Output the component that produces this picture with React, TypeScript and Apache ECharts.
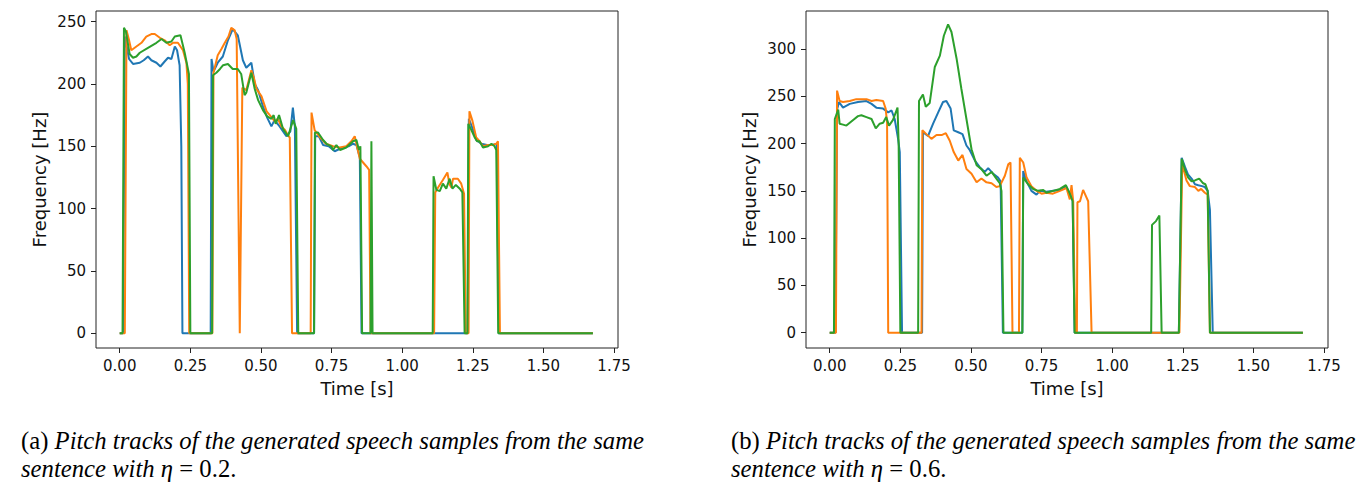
import React, { useEffect, useRef } from "react";
import * as echarts from "echarts";

// ---------- data: [time (s), frequency (Hz)] ----------
const xTicks = [0, 0.25, 0.5, 0.75, 1.0, 1.25, 1.5, 1.75];
const yTicksA = [0, 50, 100, 150, 200, 250];
const yTicksB = [0, 50, 100, 150, 200, 250, 300];

const aBlue = [
  [0, 0], [0.012, 0], [0.018, 238], [0.033, 220], [0.047, 216], [0.071, 217], [0.085, 219], [0.1, 222], [0.112, 219],
  [0.13, 217], [0.144, 214], [0.159, 218], [0.171, 221], [0.183, 220], [0.195, 230], [0.203, 227], [0.212, 215],
  [0.218, 150], [0.222, 0], [0.322, 0], [0.325, 220], [0.332, 210], [0.347, 217], [0.365, 222], [0.383, 235],
  [0.4, 244], [0.418, 239], [0.436, 219], [0.448, 213], [0.466, 217], [0.478, 200], [0.49, 195], [0.507, 182],
  [0.522, 173], [0.537, 166], [0.548, 171], [0.566, 166], [0.59, 158], [0.604, 162], [0.613, 181], [0.62, 166],
  [0.628, 0], [0.688, 0], [0.692, 158], [0.705, 158], [0.72, 151], [0.74, 150], [0.761, 146], [0.79, 149],
  [0.81, 150], [0.825, 152], [0.838, 151], [0.85, 141], [0.856, 0], [1.232, 0], [1.236, 172], [1.248, 165],
  [1.262, 155], [1.28, 152], [1.3, 151], [1.32, 151], [1.335, 152], [1.342, 0], [1.675, 0],
];

const aOrange = [
  [0, 0], [0.018, 0], [0.024, 243], [0.032, 236], [0.041, 227], [0.059, 230], [0.077, 233], [0.094, 238],
  [0.112, 240], [0.124, 240], [0.142, 237], [0.159, 235], [0.177, 231], [0.189, 233], [0.206, 233], [0.224, 227],
  [0.236, 217], [0.241, 200], [0.246, 0], [0.328, 0], [0.332, 209], [0.347, 223], [0.36, 228], [0.372, 233],
  [0.385, 238], [0.395, 245], [0.407, 243], [0.414, 236], [0.425, 0], [0.434, 197], [0.448, 195], [0.466, 211],
  [0.475, 205], [0.484, 196], [0.502, 190], [0.52, 178], [0.535, 174], [0.549, 170], [0.56, 172], [0.572, 166],
  [0.585, 163], [0.595, 159], [0.602, 157], [0.61, 0], [0.676, 0], [0.679, 177], [0.69, 163], [0.71, 157],
  [0.73, 152], [0.755, 150], [0.779, 149], [0.802, 150], [0.82, 154], [0.832, 158], [0.838, 152], [0.85, 140],
  [0.873, 134], [0.883, 131], [0.888, 0], [1.113, 0], [1.117, 113], [1.127, 117], [1.144, 123], [1.16, 129],
  [1.167, 120], [1.174, 117], [1.18, 124], [1.197, 124], [1.209, 120], [1.219, 112], [1.225, 0], [1.235, 0],
  [1.238, 178], [1.248, 171], [1.262, 157], [1.274, 154], [1.286, 150], [1.304, 151], [1.321, 151], [1.333, 152],
  [1.339, 154], [1.346, 0], [1.675, 0],
];

const aGreen = [
  [0, 0], [0.01, 0], [0.015, 245], [0.022, 242], [0.035, 224], [0.047, 221], [0.059, 222], [0.071, 225],
  [0.1, 229], [0.13, 233], [0.148, 236], [0.165, 233], [0.183, 234], [0.195, 238], [0.215, 239], [0.23, 225],
  [0.245, 208], [0.25, 0], [0.327, 0], [0.33, 207], [0.342, 209], [0.355, 212], [0.366, 215], [0.383, 216],
  [0.4, 212], [0.418, 212], [0.43, 208], [0.442, 191], [0.448, 193], [0.466, 209], [0.478, 196], [0.49, 187],
  [0.507, 179], [0.522, 174], [0.537, 172], [0.545, 175], [0.552, 168], [0.564, 175], [0.578, 164], [0.596, 158],
  [0.614, 171], [0.625, 164], [0.632, 0], [0.688, 0], [0.691, 161], [0.702, 161], [0.72, 155], [0.732, 152],
  [0.749, 150], [0.755, 147], [0.767, 151], [0.78, 147], [0.802, 149], [0.826, 154], [0.838, 155], [0.847, 147],
  [0.852, 150], [0.858, 0], [0.888, 0], [0.891, 154], [0.895, 0], [1.108, 0], [1.111, 126], [1.121, 115],
  [1.133, 114], [1.144, 120], [1.156, 116], [1.168, 124], [1.178, 116], [1.19, 119], [1.204, 116], [1.213, 113],
  [1.221, 0], [1.231, 0], [1.234, 168], [1.245, 163], [1.257, 157], [1.265, 154], [1.274, 154], [1.286, 149],
  [1.304, 150], [1.316, 152], [1.327, 150], [1.333, 147], [1.34, 0], [1.675, 0],
];

const bBlue = [
  [0, 0], [0.02, 0], [0.026, 236], [0.033, 244], [0.047, 238], [0.071, 242], [0.1, 244], [0.13, 245],
  [0.148, 242], [0.165, 238], [0.189, 237], [0.207, 233], [0.219, 235], [0.23, 226], [0.242, 205], [0.248, 191],
  [0.256, 0], [0.327, 0], [0.33, 212], [0.348, 208], [0.366, 221], [0.384, 233], [0.401, 244], [0.413, 245],
  [0.428, 237], [0.439, 214], [0.455, 212], [0.47, 210], [0.484, 198], [0.496, 193], [0.514, 182], [0.531, 175],
  [0.549, 170], [0.561, 174], [0.579, 168], [0.596, 164], [0.605, 160], [0.613, 0], [0.682, 0], [0.685, 171],
  [0.697, 160], [0.714, 150], [0.732, 146], [0.744, 150], [0.767, 149], [0.791, 150], [0.815, 151], [0.836, 155],
  [0.85, 147], [0.86, 140], [0.867, 0], [1.236, 0], [1.246, 185], [1.258, 175], [1.269, 167], [1.281, 163],
  [1.293, 157], [1.305, 156], [1.318, 155], [1.328, 154], [1.338, 150], [1.346, 130], [1.356, 0], [1.675, 0],
];

const bOrange = [
  [0, 0], [0.022, 0], [0.026, 256], [0.035, 245], [0.047, 244], [0.071, 245], [0.094, 247], [0.13, 247],
  [0.148, 245], [0.165, 246], [0.189, 245], [0.198, 237], [0.203, 222], [0.207, 0], [0.325, 0], [0.328, 214],
  [0.342, 210], [0.36, 205], [0.378, 209], [0.396, 209], [0.411, 211], [0.425, 203], [0.439, 191], [0.455, 182],
  [0.47, 188], [0.484, 173], [0.502, 168], [0.52, 159], [0.537, 163], [0.555, 159], [0.573, 158], [0.59, 154],
  [0.602, 155], [0.62, 166], [0.632, 178], [0.64, 180], [0.647, 0], [0.67, 0], [0.673, 185], [0.685, 180],
  [0.697, 164], [0.714, 155], [0.732, 150], [0.75, 147], [0.767, 148], [0.79, 147], [0.815, 150], [0.838, 153],
  [0.85, 141], [0.856, 156], [0.862, 139], [0.869, 0], [0.875, 0], [0.877, 138], [0.886, 139], [0.897, 151],
  [0.915, 139], [0.927, 0], [1.238, 0], [1.248, 180], [1.251, 175], [1.263, 161], [1.275, 155], [1.293, 154],
  [1.305, 150], [1.315, 152], [1.328, 148], [1.338, 146], [1.346, 0], [1.675, 0],
];

const bGreen = [
  [0, 0], [0.015, 0], [0.018, 226], [0.03, 236], [0.035, 221], [0.047, 220], [0.059, 219], [0.071, 222],
  [0.083, 225], [0.1, 229], [0.112, 230], [0.13, 228], [0.148, 226], [0.163, 216], [0.177, 221], [0.189, 222],
  [0.2, 228], [0.21, 219], [0.224, 225], [0.24, 238], [0.244, 200], [0.25, 0], [0.313, 0], [0.316, 245],
  [0.33, 252], [0.34, 239], [0.354, 243], [0.372, 281], [0.39, 293], [0.404, 314], [0.419, 326], [0.431, 318],
  [0.449, 290], [0.466, 258], [0.484, 226], [0.502, 194], [0.52, 177], [0.537, 173], [0.555, 166], [0.573, 170],
  [0.59, 163], [0.602, 158], [0.608, 150], [0.615, 0], [0.682, 0], [0.685, 164], [0.702, 157], [0.72, 152],
  [0.738, 150], [0.756, 151], [0.767, 148], [0.791, 150], [0.815, 152], [0.836, 156], [0.85, 147], [0.86, 139],
  [0.867, 0], [1.138, 0], [1.141, 114], [1.155, 118], [1.167, 124], [1.175, 0], [1.236, 0], [1.246, 184],
  [1.258, 172], [1.269, 164], [1.281, 160], [1.293, 161], [1.308, 163], [1.322, 158], [1.33, 157], [1.338, 150],
  [1.346, 0], [1.675, 0],
];

const captionA1 = ["(a) ", "Pitch tracks of the generated speech samples from the same"];
const captionA2 = ["sentence with ", "η", " = 0.2."];
const captionB1 = ["(b) ", "Pitch tracks of the generated speech samples from the same"];
const captionB2 = ["sentence with ", "η", " = 0.6."];

const COLORS = ["#1f77b4", "#ff7f0e", "#2ca02c"];
const TEXT = "#111";
const SANS = "DejaVu Sans";
const SERIF = "Liberation Serif";

function xAxisCfg(gridIndex: number) {
  return {
    type: "value",
    gridIndex,
    min: -0.084,
    max: 1.764,
    name: "Time [s]",
    nameLocation: "middle",
    nameGap: 31,
    nameTextStyle: { fontFamily: SANS, fontSize: 18, color: TEXT },
    axisLine: { show: false, onZero: false },
    splitLine: { show: false },
    axisTick: { show: true, inside: false, length: 5, customValues: xTicks, lineStyle: { color: "#222", width: 1 } },
    axisLabel: {
      show: true,
      margin: 10,
      customValues: xTicks,
      formatter: (v: number) => v.toFixed(2),
      fontFamily: SANS,
      fontSize: 15,
      color: TEXT,
    },
  };
}

function yAxisCfg(gridIndex: number, min: number, max: number, ticks: number[]) {
  return {
    type: "value",
    gridIndex,
    min,
    max,
    name: "Frequency [Hz]",
    nameLocation: "middle",
    nameGap: 48,
    nameTextStyle: { fontFamily: SANS, fontSize: 18, color: TEXT },
    axisLine: { show: false, onZero: false },
    splitLine: { show: false },
    axisTick: { show: true, inside: false, length: 5, customValues: ticks, lineStyle: { color: "#222", width: 1 } },
    axisLabel: {
      show: true,
      margin: 10,
      customValues: ticks,
      formatter: (v: number) => String(Math.round(v)),
      fontFamily: SANS,
      fontSize: 15,
      color: TEXT,
    },
  };
}

function lineSeries(data: number[][], color: string, idx: number) {
  return {
    type: "line",
    xAxisIndex: idx,
    yAxisIndex: idx,
    data,
    showSymbol: false,
    symbol: "none",
    clip: true,
    lineStyle: { color, width: 2 },
    itemStyle: { color },
    emphasis: { disabled: true },
  };
}

const richStyles = {
  u: { fontFamily: SERIF, fontSize: 24.7, fill: "#000" },
  i: { fontFamily: SERIF, fontSize: 24.7, fontStyle: "italic", fill: "#000" },
};

function captionLine(x: number, y: number, parts: string[], styles: string[]) {
  const text = parts.map((p, k) => `{${styles[k]}|${p}}`).join("");
  return {
    type: "text",
    x,
    y,
    style: { text, rich: richStyles, verticalAlign: "middle", align: "left" },
  };
}

export default function App() {
  const ref = useRef<HTMLDivElement>(null);
  useEffect(() => {
    document.body.style.margin = "0";
    if (!ref.current) return;
    const chart = echarts.init(ref.current, null, { renderer: "svg" });
    chart.setOption({
      animation: false,
      backgroundColor: "#fff",
      tooltip: { show: false },
      grid: [
        { left: 96, top: 11, width: 522, height: 337, show: true, borderColor: "#222", borderWidth: 1, backgroundColor: "transparent" },
        { left: 806, top: 11, width: 522, height: 337, show: true, borderColor: "#222", borderWidth: 1, backgroundColor: "transparent" },
      ],
      xAxis: [xAxisCfg(0), xAxisCfg(1)],
      yAxis: [yAxisCfg(0, -11.8, 258.5, yTicksA), yAxisCfg(1, -16.2, 340.2, yTicksB)],
      series: [
        lineSeries(aBlue, COLORS[0], 0),
        lineSeries(aOrange, COLORS[1], 0),
        lineSeries(aGreen, COLORS[2], 0),
        lineSeries(bBlue, COLORS[0], 1),
        lineSeries(bOrange, COLORS[1], 1),
        lineSeries(bGreen, COLORS[2], 1),
      ],
      graphic: [
        captionLine(21, 440, captionA1, ["u", "i"]),
        captionLine(21, 468, captionA2, ["i", "i", "u"]),
        captionLine(731, 440, captionB1, ["u", "i"]),
        captionLine(731, 468, captionB2, ["i", "i", "u"]),
      ],
    });
    return () => chart.dispose();
  }, []);
  return (
    <div
      ref={ref}
      style={{ position: "absolute", left: 0, top: 0, width: 1366, height: 488, background: "#fff" }}
    />
  );
}
